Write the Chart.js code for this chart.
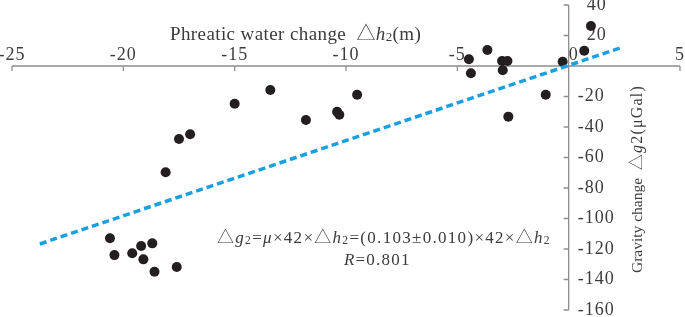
<!DOCTYPE html>
<html>
<head>
<meta charset="utf-8">
<script src="https://cdn.jsdelivr.net/npm/chart.js@4/dist/chart.umd.min.js"></script>
<style>
    html, body { margin: 0; padding: 0; background: #fff; }
    #wrap { width: 685px; height: 317px; position: relative; }
</style>
</head>
<body>
<div id="wrap"><canvas id="chart"></canvas></div>
<script>
// Data
const waterChange = [-13.4, -15.0, -10.4, -10.3, -11.8, 1.0, 0.7, -3.65, -4.48, -4.39, -2.99, -2.75, -2.96, -0.27, -1.03, -9.5, -2.71,
    -17.0, -17.5, -18.1, -20.6, -20.4, -19.6, -19.2, -18.7, -19.1, -18.6, -17.6];
const gravityChange = [-15.7, -24.7, -30, -32, -35.4, 26.2, 10, 10.5, 4.4, -4.8, 3.3, 3.3, -2.8, 2.8, -18.8, -18.8, -33.2,
    -44.8, -47.9, -69.7, -113, -124, -122.8, -118, -116.3, -126.8, -134.9, -131.8];
const fitX = [-23.75, 2.35];
const fitY = [-116.7, 12.0];
const xTicks = [-25, -20, -15, -10, -5, 0, 5];
const yTicks = [-160, -140, -120, -100, -80, -60, -40, -20, 20, 40];

const SERIF = '"Liberation Serif", "DejaVu Serif", serif';
const TRI = '"Noto Sans CJK SC", "DejaVu Sans", sans-serif';
const TEXT = "#3c3c3c";
const AXIS = "#8e8e8e";

// draw a line of text made of runs (normal / italic / subscript / triangle)
const drawRuns = (ctx, x, y, runs, size, spacing) => {
    let cx = x;
    runs.forEach((r) => {
        const fs = r.size || (r.sub ? size * 0.68 : size);
        const family = r.tri ? TRI : SERIF;
        ctx.letterSpacing = `${r.sp !== undefined ? r.sp : spacing}px`;
        ctx.font = `${r.italic ? "italic " : ""}${r.tri ? 200 : 400} ${fs}px ${family}`;
        ctx.fillText(r.t, cx, r.sub ? y + 1 : y);
        cx += ctx.measureText(r.t).width;
    });
    ctx.letterSpacing = "0px";
};

const axesPlugin = {
    id: "crossAxes",
    beforeDatasetsDraw(chart) {
        const { ctx, scales } = chart;
        const xs = scales.x;
        const ys = scales.y;
        const y0 = ys.getPixelForValue(0);
        const x0 = xs.getPixelForValue(0);
        ctx.save();
        ctx.strokeStyle = AXIS;
        ctx.lineWidth = 1.3;
        // x axis along y = 0
        ctx.beginPath();
        ctx.moveTo(xs.getPixelForValue(xTicks[0]), y0);
        ctx.lineTo(xs.getPixelForValue(xTicks[xTicks.length - 1]), y0);
        xTicks.forEach((v) => {
            const px = xs.getPixelForValue(v);
            ctx.moveTo(px, y0);
            ctx.lineTo(px, y0 + 5);
        });
        // y axis along x = 0
        ctx.moveTo(x0, ys.getPixelForValue(-160));
        ctx.lineTo(x0, ys.getPixelForValue(40));
        [...yTicks, 0].forEach((v) => {
            const py = ys.getPixelForValue(v);
            ctx.moveTo(x0, py);
            ctx.lineTo(x0 - 5, py);
        });
        ctx.stroke();

        ctx.fillStyle = TEXT;
        ctx.font = `18px ${SERIF}`;
        ctx.letterSpacing = "1px";
        ctx.textBaseline = "alphabetic";
        ctx.textAlign = "center";
        xTicks.forEach((v) => {
            const px = xs.getPixelForValue(v) + (v === 0 ? 5 : 0);
            ctx.fillText(String(v), px, y0 - 6);
        });
        ctx.textAlign = "left";
        ctx.textBaseline = "middle";
        yTicks.forEach((v) => {
            ctx.fillText(String(v), x0 + 9 + (v > 0 ? 9 : 0), ys.getPixelForValue(v));
        });
        ctx.letterSpacing = "0px";
        ctx.restore();
    },
    afterDraw(chart) {
        const { ctx } = chart;
        ctx.save();
        ctx.fillStyle = TEXT;
        ctx.textAlign = "left";
        ctx.textBaseline = "alphabetic";
        // x axis title
        drawRuns(ctx, 170, 40, [
            { t: "Phreatic water change  " },
            { t: "\u25B3", tri: true },
            { t: "h", italic: true },
            { t: "2", sub: true },
            { t: "(m)" },
        ], 19, 0.4);
        // fit annotation
        drawRuns(ctx, 217, 243, [
            { t: "\u25B3", tri: true },
            { t: "g", italic: true },
            { t: "2", sub: true },
            { t: "=" },
            { t: "\u03BC", italic: true },
            { t: "\u00D742\u00D7" },
            { t: "\u25B3", tri: true },
            { t: "h", italic: true },
            { t: "2", sub: true },
            { t: "=(0.103\u00B10.010)\u00D742\u00D7" },
            { t: "\u25B3", tri: true },
            { t: "h", italic: true },
            { t: "2", sub: true },
        ], 17, 1.3);
        drawRuns(ctx, 344, 265, [
            { t: "R", italic: true },
            { t: "=0.801" },
        ], 17, 1.2);
        // y axis title, rotated
        ctx.translate(642, 273);
        ctx.rotate(-Math.PI / 2);
        drawRuns(ctx, 0, 0, [
            { t: "Gravity change  ", size: 15.5, sp: 0 },
            { t: "\u25B3", tri: true },
            { t: "g", italic: true },
            { t: "2(\u03BCGal)" },
        ], 16, 1.2);
        ctx.restore();
    },
};

const points = waterChange.map((x, i) => ({ x, y: gravityChange[i] }));
const fitLine = fitX.map((x, i) => ({ x, y: fitY[i] }));

new Chart(document.getElementById("chart"), {
    type: "scatter",
    data: {
        datasets: [
            {
                label: "fit",
                data: fitLine,
                showLine: true,
                pointRadius: 0,
                borderColor: "#1aa0e2",
                borderWidth: 3.5,
                borderDash: [7, 4],
            },
            {
                label: "stations",
                data: points,
                pointRadius: 5,
                pointBackgroundColor: "#231f20",
                pointBorderWidth: 0,
            },
        ],
    },
    options: {
        responsive: true,
        maintainAspectRatio: false,
        animation: false,
        layout: { padding: { left: 12, right: 3, top: 5, bottom: 7 } },
        plugins: { legend: { display: false }, tooltip: { enabled: false } },
        scales: {
            x: { type: "linear", min: -25, max: 5, display: false },
            y: { type: "linear", min: -160, max: 40, display: false },
        },
    },
    plugins: [axesPlugin],
});
</script>
</body>
</html>
